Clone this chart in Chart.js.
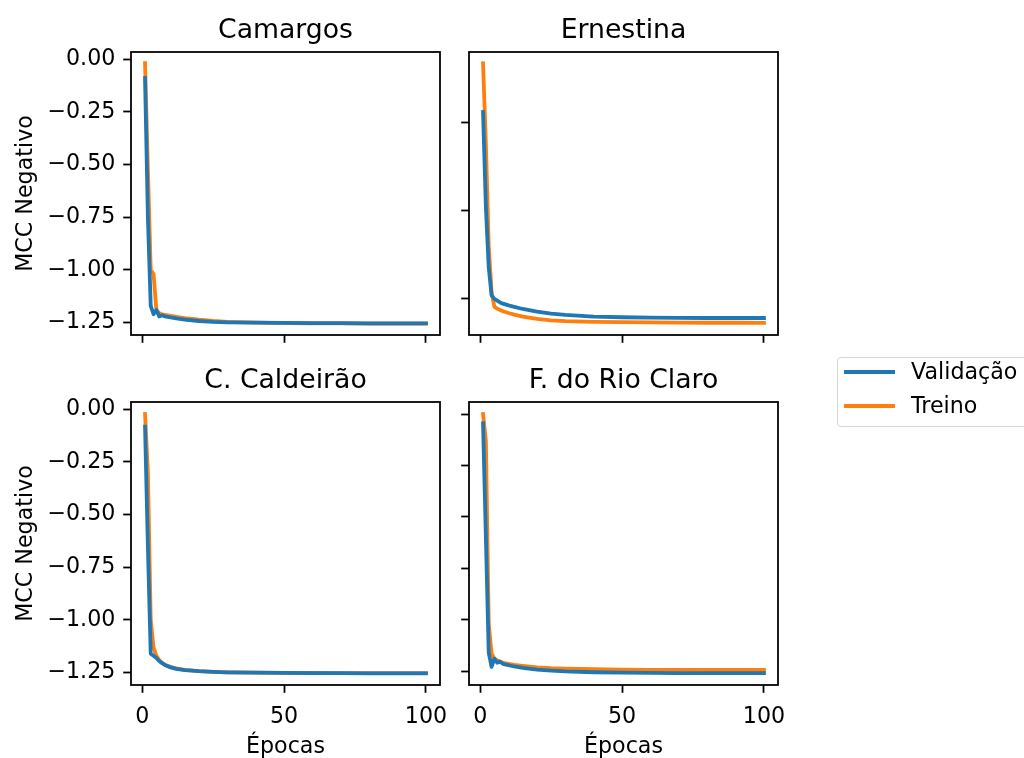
<!DOCTYPE html>
<html>
<head>
<meta charset="utf-8">
<script src="https://cdn.jsdelivr.net/npm/chart.js@4.4.0/dist/chart.umd.min.js"></script>
<style>
html,body{margin:0;padding:0;background:#fff;width:1024px;height:758px;overflow:hidden;}
canvas.cv{position:absolute;left:0;top:0;}
#legend{position:absolute;left:837px;top:357px;width:200px;height:68px;border:1px solid #d6d6d6;border-radius:4px;background:#fff;font-family:'DejaVu Sans';font-size:22.2px;color:#000;}
#legend .item{position:absolute;left:0;height:30px;width:200px;}
#legend .sw{position:absolute;left:6px;width:51px;height:4px;}
#legend .lb{position:absolute;left:73px;line-height:26px;white-space:nowrap;}
</style>
</head>
<body>
<canvas id="c0" class="cv" width="1024" height="758"></canvas>
<canvas id="c1" class="cv" width="1024" height="758"></canvas>
<canvas id="c2" class="cv" width="1024" height="758"></canvas>
<canvas id="c3" class="cv" width="1024" height="758"></canvas>
<div id="legend"></div>
<script>
// ---------- data ----------
const epochs = [1,2,3,4,5,6,7,8,10,12,15,20,25,30,40,50,60,70,80,90,100];
const titles = ['Camargos','Ernestina','C. Caldeirão','F. do Rio Claro'];
const seriesNames = ['Validação','Treino'];
const xTickValues = [0,50,100];
const yTicksStd = [0,-0.25,-0.5,-0.75,-1.0,-1.25];
const yTicksErnestina = [-0.5,-1.0,-1.5];

const camargosVal   = [-0.09,-0.75,-1.17,-1.21,-1.19,-1.22,-1.215,-1.22,-1.225,-1.23,-1.235,-1.242,-1.246,-1.248,-1.25,-1.251,-1.252,-1.252,-1.253,-1.253,-1.253];
const camargosTrain = [-0.02,-0.52,-1.0,-1.02,-1.19,-1.205,-1.21,-1.213,-1.218,-1.222,-1.228,-1.236,-1.242,-1.246,-1.25,-1.252,-1.253,-1.253,-1.254,-1.254,-1.254];

const ernestinaVal   = [-0.442,-0.98,-1.32,-1.48,-1.50,-1.51,-1.52,-1.527,-1.537,-1.545,-1.557,-1.572,-1.583,-1.591,-1.60,-1.604,-1.606,-1.607,-1.608,-1.608,-1.608];
const ernestinaTrain = [-0.166,-0.62,-1.2,-1.46,-1.545,-1.555,-1.563,-1.57,-1.58,-1.589,-1.60,-1.613,-1.621,-1.626,-1.63,-1.632,-1.633,-1.634,-1.635,-1.635,-1.636];

const caldeiraoVal   = [-0.084,-0.65,-1.16,-1.17,-1.18,-1.195,-1.205,-1.213,-1.225,-1.232,-1.238,-1.243,-1.246,-1.248,-1.25,-1.251,-1.252,-1.252,-1.253,-1.253,-1.253];
const caldeiraoTrain = [-0.024,-0.3,-1.0,-1.13,-1.17,-1.19,-1.203,-1.212,-1.222,-1.23,-1.237,-1.243,-1.246,-1.248,-1.25,-1.251,-1.251,-1.252,-1.252,-1.252,-1.252];

const rioClaroVal   = [-0.045,-0.6,-1.16,-1.23,-1.19,-1.21,-1.205,-1.215,-1.222,-1.228,-1.235,-1.243,-1.248,-1.252,-1.256,-1.258,-1.259,-1.26,-1.26,-1.26,-1.26];
const rioClaroTrain = [0.0,-0.13,-1.02,-1.165,-1.19,-1.198,-1.204,-1.21,-1.215,-1.22,-1.225,-1.232,-1.236,-1.238,-1.241,-1.243,-1.244,-1.244,-1.245,-1.245,-1.245];

const colors = ['#1f77b4','#ff7f0e'];

// ---------- helpers ----------
Chart.defaults.font.family = "'DejaVu Sans'";
Chart.defaults.color = '#000';

function fmtY(v){
  const a = Math.abs(v).toFixed(2);
  return (v < -1e-9 ? '\u2212' : '') + a;
}

const framePlugin = {
  id:'frame',
  afterDatasetsDraw(chart){
    const a = chart.chartArea, ctx = chart.ctx;
    ctx.save();
    ctx.strokeStyle = '#000';
    ctx.lineWidth = 1.78;
    ctx.strokeRect(a.left, a.top, a.right - a.left, a.bottom - a.top);
    ctx.restore();
  }
};

const panels = [
  {id:'c0', title:titles[0], val:camargosVal, train:camargosTrain, yMin:-1.3083, yMax:0.0332, yTicks:yTicksStd,
   showYLabels:true, showXLabels:false, padL:0, padR:584, padT:0, padB:413, yW:131, xH:10},
  {id:'c1', title:titles[1], val:ernestinaVal, train:ernestinaTrain, yMin:-1.7044, yMax:-0.1019, yTicks:yTicksErnestina,
   showYLabels:false, showXLabels:false, padL:449, padR:246, padT:0, padB:413, yW:20, xH:10},
  {id:'c2', title:titles[2], val:caldeiraoVal, train:caldeiraoTrain, yMin:-1.3083, yMax:0.0332, yTicks:yTicksStd,
   showYLabels:true, showXLabels:true, padL:0, padR:584, padT:350, padB:0, yW:131, xH:73},
  {id:'c3', title:titles[3], val:rioClaroVal, train:rioClaroTrain, yMin:-1.318, yMax:0.0584, yTicks:yTicksStd,
   showYLabels:false, showXLabels:true, padL:449, padR:246, padT:350, padB:0, yW:20, xH:73}
];

const tickFont = {family:"'DejaVu Sans'", size:22.2, lineHeight:1.2};
const xTitleFont = {family:"'DejaVu Sans'", size:22.2, lineHeight:1.0};
const titleFont = {family:"'DejaVu Sans'", size:26.7, lineHeight:1.2};

panels.forEach(p => {
  const toPts = arr => epochs.map((e,i) => ({x:e, y:arr[i]}));
  new Chart(document.getElementById(p.id), {
    type:'line',
    data:{
      datasets:[
        {label:seriesNames[0], data:toPts(p.val), borderColor:colors[0], backgroundColor:colors[0],
         borderWidth:3.8, pointRadius:0, tension:0, fill:false, xAxisID:'x', yAxisID:'y', borderCapStyle:'square', borderJoinStyle:'round'},
        {label:seriesNames[1], data:toPts(p.train), borderColor:colors[1], backgroundColor:colors[1],
         borderWidth:3.8, pointRadius:0, tension:0, fill:false, xAxisID:'x', yAxisID:'y', borderCapStyle:'square', borderJoinStyle:'round'}
      ]
    },
    options:{
      responsive:false, animation:false, devicePixelRatio:1,
      events:[],
      layout:{padding:{left:p.padL, right:p.padR, top:p.padT, bottom:p.padB}},
      plugins:{legend:{display:false}, tooltip:{enabled:false}, title:{display:false}},
      scales:{
        x:{
          type:'linear', position:'bottom', min:-3.95, max:104.95,
          afterBuildTicks: s => { s.ticks = xTickValues.map(v => ({value:v})); },
          ticks:{display:p.showXLabels, font:tickFont, color:'#000', padding:11, maxRotation:0, minRotation:0, autoSkip:false,
                 callback: v => String(v)},
          grid:{display:true, drawOnChartArea:false, drawTicks:true, tickLength:7.8, tickWidth:1.78, tickColor:'#000'},
          border:{display:false},
          title:{display:p.showXLabels, text:'Épocas', font:xTitleFont, color:'#000', padding:{top:0, bottom:0}},
          afterFit: s => { s.height = p.xH; }
        },
        xTop:{
          type:'linear', position:'top', min:-3.95, max:104.95,
          ticks:{display:false}, grid:{display:false}, border:{display:false},
          title:{display:true, text:p.title, font:titleFont, color:'#000', padding:{top:15.5, bottom:0}},
          afterFit: s => { s.height = 52; }
        },
        y:{
          type:'linear', position:'left', min:p.yMin, max:p.yMax,
          afterBuildTicks: s => { s.ticks = p.yTicks.map(v => ({value:v})); },
          ticks:{display:p.showYLabels, font:tickFont, color:'#000', padding:7.8, callback: v => fmtY(v)},
          grid:{display:true, drawOnChartArea:false, drawTicks:true, tickLength:7.8, tickWidth:1.78, tickColor:'#000'},
          border:{display:false},
          title:{display:p.showYLabels, text:'MCC Negativo', font:tickFont, color:'#000', padding:{top:13, bottom:0}},
          afterFit: s => { s.width = p.yW; }
        }
      }
    },
    plugins:[framePlugin]
  });
});

// ---------- legend (HTML) ----------
const lg = document.getElementById('legend');
seriesNames.forEach((name, i) => {
  const it = document.createElement('div');
  it.className = 'item';
  it.style.top = (i === 0 ? 0 : 34) + 'px';
  const sw = document.createElement('div');
  sw.className = 'sw';
  sw.style.background = colors[i];
  sw.style.top = '12px';
  const lb = document.createElement('div');
  lb.className = 'lb';
  lb.style.top = '0px';
  lb.textContent = name;
  it.appendChild(sw); it.appendChild(lb);
  lg.appendChild(it);
});
</script>
</body>
</html>
